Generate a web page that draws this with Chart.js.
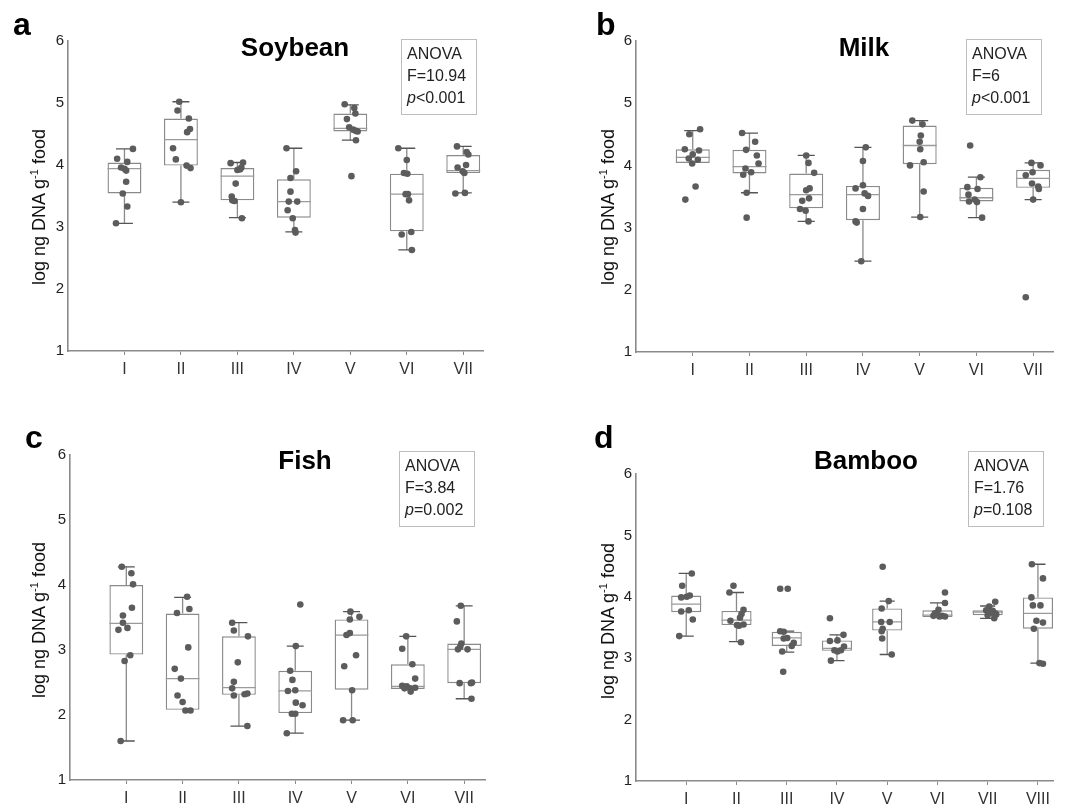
<!DOCTYPE html>
<html><head><meta charset="utf-8">
<script src="https://cdn.jsdelivr.net/npm/chart.js@4.4.1/dist/chart.umd.min.js"></script>
<style>
body{margin:0;background:#fff;}
#wrap{position:relative;width:1072px;height:807px;overflow:hidden;font-family:"Liberation Sans",Arial,sans-serif;color:#111;background:#fff;}
canvas{position:absolute;}
.lbl{position:absolute;font-weight:bold;font-size:32px;line-height:32px;color:#000;}
.ttl{position:absolute;font-weight:bold;font-size:26px;line-height:26px;transform:translateX(-50%);white-space:nowrap;color:#000;}
.anova{position:absolute;border:1.5px solid #bdbdbd;box-sizing:border-box;width:76px;height:76px;padding:3px 0 0 5px;font-size:16px;line-height:22px;color:#222;white-space:nowrap;}
.ytitle{position:absolute;font-size:18px;line-height:18px;white-space:nowrap;transform:translate(-50%,-50%) rotate(-90deg);color:#111;}
.ytitle sup{font-size:11px;line-height:0;}
</style></head>
<body>
<div id="wrap">
<canvas id="ca" width="536" height="400" style="left:0;top:0"></canvas>
<canvas id="cb" width="536" height="400" style="left:536px;top:0"></canvas>
<canvas id="cc" width="536" height="407" style="left:0;top:400px"></canvas>
<canvas id="cd" width="536" height="407" style="left:536px;top:400px"></canvas>

<div class="lbl" style="left:13px;top:8px">a</div>
<div class="lbl" style="left:596px;top:8px">b</div>
<div class="lbl" style="left:25px;top:421px">c</div>
<div class="lbl" style="left:594px;top:421px">d</div>

<div class="ttl" style="left:295px;top:34px">Soybean</div>
<div class="ttl" style="left:864px;top:34px">Milk</div>
<div class="ttl" style="left:305px;top:447px">Fish</div>
<div class="ttl" style="left:866px;top:447px">Bamboo</div>

<div class="anova" style="left:401px;top:39px">ANOVA<br>F=10.94<br><i>p</i>&lt;0.001</div>
<div class="anova" style="left:966px;top:39px">ANOVA<br>F=6<br><i>p</i>&lt;0.001</div>
<div class="anova" style="left:399px;top:451px">ANOVA<br>F=3.84<br><i>p</i>=0.002</div>
<div class="anova" style="left:968px;top:451px">ANOVA<br>F=1.76<br><i>p</i>=0.108</div>

<div class="ytitle" style="left:39px;top:207px">log ng DNA g<sup>-1</sup> food</div>
<div class="ytitle" style="left:608px;top:207px">log ng DNA g<sup>-1</sup> food</div>
<div class="ytitle" style="left:39px;top:620px">log ng DNA g<sup>-1</sup> food</div>
<div class="ytitle" style="left:608px;top:621px">log ng DNA g<sup>-1</sup> food</div>
</div>
<script>
// ---------- tick labels ----------
const yTicks = [1, 2, 3, 4, 5, 6];
const cats7 = ['I', 'II', 'III', 'IV', 'V', 'VI', 'VII'];
const cats8 = ['I', 'II', 'III', 'IV', 'V', 'VI', 'VII', 'VIII'];

// ---------- a: Soybean ----------
const soyLo  = [3.06, 3.40, 3.15, 2.92, 4.40, 2.63, 3.55];
const soyQ1  = [3.54, 3.99, 3.43, 3.15, 4.54, 2.93, 3.87];
const soyMed = [3.94, 4.41, 3.82, 3.41, 4.59, 3.53, 3.91];
const soyQ3  = [4.04, 4.75, 3.95, 3.77, 4.83, 3.86, 4.16];
const soyHi  = [4.26, 5.02, 4.04, 4.27, 4.97, 4.27, 4.30];
const soyPts = [
  [4.26, 4.10, 4.05, 3.96, 3.94, 3.91, 3.73, 3.54, 3.33, 3.06],
  [5.02, 4.88, 4.75, 4.58, 4.53, 4.27, 4.09, 3.99, 3.95, 3.40],
  [4.03, 4.04, 3.96, 3.92, 3.93, 3.70, 3.49, 3.43, 3.42, 3.14],
  [4.27, 3.90, 3.79, 3.57, 3.41, 3.41, 3.27, 3.14, 2.95, 2.91],
  [4.98, 4.92, 4.83, 4.74, 4.61, 4.57, 4.54, 4.55, 4.40, 3.82],
  [4.27, 4.08, 3.87, 3.86, 3.53, 3.53, 3.43, 2.88, 2.92, 2.63],
  [4.30, 4.21, 4.17, 4.00, 3.96, 3.90, 3.87, 3.54, 3.55]
];
const soyJit = [
  [0.15, -0.13, 0.05, -0.06, 0, 0.03, 0.03, -0.03, 0.05, -0.15],
  [-0.03, -0.06, 0.14, 0.16, 0.11, -0.14, -0.09, 0.10, 0.17, 0],
  [-0.12, 0.10, 0.07, 0, 0.05, -0.03, -0.10, -0.09, -0.05, 0.08],
  [-0.13, 0.04, -0.06, -0.06, -0.09, 0.06, -0.11, -0.02, 0.02, 0.03],
  [-0.10, 0.07, 0.09, -0.06, -0.02, 0.05, 0.13, 0.10, 0.10, 0.02],
  [-0.15, 0, -0.05, 0.01, -0.02, 0.02, 0.04, -0.09, 0.08, 0.09],
  [-0.11, 0.06, 0.09, 0.05, -0.10, -0.01, 0.02, -0.14, 0.03]
];

// ---------- b: Milk ----------
const milkLo  = [4.04, 3.56, 3.10, 2.46, 3.17, 3.16, 3.45];
const milkQ1  = [4.04, 3.87, 3.31, 3.12, 4.02, 3.42, 3.64];
const milkMed = [4.13, 3.98, 3.53, 3.53, 4.32, 3.48, 3.79];
const milkQ3  = [4.26, 4.25, 3.87, 3.67, 4.64, 3.64, 3.93];
const milkHi  = [4.56, 4.52, 4.16, 4.29, 4.72, 3.81, 4.04];
const milkPts = [
  [4.58, 4.50, 4.26, 4.24, 4.18, 4.11, 4.09, 4.03, 3.66, 3.45],
  [4.52, 4.38, 4.25, 4.16, 4.03, 3.95, 3.89, 3.85, 3.56, 3.16],
  [4.16, 4.04, 3.88, 3.63, 3.60, 3.47, 3.43, 3.30, 3.27, 3.10],
  [4.29, 4.07, 3.68, 3.63, 3.55, 3.51, 3.30, 3.10, 3.08, 2.46],
  [4.72, 4.66, 4.48, 4.38, 4.26, 4.05, 4.00, 3.58, 3.17],
  [4.32, 3.81, 3.65, 3.62, 3.53, 3.45, 3.42, 3.41, 3.16],
  [4.04, 4.00, 3.89, 3.84, 3.71, 3.66, 3.62, 3.45, 1.88]
];
const milkJit = [
  [0.13, -0.06, -0.14, 0.11, 0, -0.07, 0.09, -0.01, 0.05, -0.13],
  [-0.13, 0.10, -0.06, 0.13, 0.16, -0.07, 0.03, -0.11, -0.05, -0.05],
  [0, 0.04, 0.14, 0.06, 0, 0.05, -0.07, -0.11, -0.01, 0.04],
  [0.05, 0, 0, -0.13, 0.03, 0.09, 0, -0.13, -0.11, -0.03],
  [-0.13, 0.05, 0.02, 0, 0.01, 0.07, -0.17, 0.07, 0.01],
  [-0.11, 0.07, -0.16, 0.02, -0.14, -0.03, -0.13, 0.01, 0.10],
  [-0.03, 0.13, -0.01, -0.13, -0.02, 0.09, 0.10, 0, -0.13]
];

// ---------- c: Fish ----------
const fishLo  = [1.60, 2.08, 1.83, 1.72, 1.92, 2.40, 2.25];
const fishQ1  = [2.93, 2.08, 2.31, 2.03, 2.39, 2.40, 2.49];
const fishMed = [3.41, 2.56, 2.42, 2.37, 3.23, 2.44, 3.01];
const fishQ3  = [4.00, 3.56, 3.21, 2.68, 3.47, 2.78, 3.10];
const fishHi  = [4.28, 3.81, 3.42, 3.06, 3.59, 3.21, 3.68];
const fishPts = [
  [4.28, 4.18, 4.01, 3.65, 3.53, 3.42, 3.34, 3.31, 2.92, 2.83, 1.60],
  [3.82, 3.57, 3.63, 3.04, 2.71, 2.56, 2.30, 2.20, 2.07, 2.07],
  [3.42, 3.30, 3.21, 2.81, 2.51, 2.41, 2.30, 2.32, 2.33, 1.83],
  [3.70, 3.06, 2.68, 2.54, 2.37, 2.38, 2.19, 2.15, 2.02, 2.02, 1.72],
  [3.59, 3.51, 3.47, 3.26, 3.23, 2.92, 2.75, 2.38, 1.92, 1.92],
  [3.21, 3.02, 2.78, 2.56, 2.45, 2.44, 2.41, 2.41, 2.42, 2.36],
  [3.68, 3.44, 3.10, 3.05, 3.01, 3.01, 2.49, 2.49, 2.50, 2.25]
];
const fishJit = [
  [-0.08, 0.09, 0.12, 0.10, -0.06, -0.06, 0.02, -0.14, 0.07, -0.03, -0.10],
  [0.08, -0.10, 0.12, 0.10, -0.14, -0.03, -0.09, 0, 0.05, 0.14],
  [-0.12, -0.09, 0.16, -0.02, -0.09, -0.12, -0.09, 0.10, 0.15, 0.15],
  [0.09, 0.01, -0.09, -0.05, -0.13, 0, 0.01, 0.13, -0.06, 0, -0.15],
  [-0.02, 0.14, -0.03, -0.03, -0.09, 0.08, -0.13, 0.01, -0.15, 0.02],
  [-0.03, -0.10, 0.08, 0.13, -0.10, -0.02, -0.06, 0.04, 0.13, 0.05],
  [-0.06, -0.13, -0.05, -0.07, -0.11, 0.06, -0.08, 0.12, 0.14, 0.13]
];

// ---------- d: Bamboo ----------
const bamLo  = [3.36, 3.27, 3.10, 2.96, 3.06, 3.67, 3.65, 2.92];
const bamQ1  = [3.75, 3.54, 3.20, 3.12, 3.45, 3.67, 3.70, 3.48];
const bamMed = [3.88, 3.62, 3.33, 3.16, 3.59, 3.70, 3.75, 3.73];
const bamQ3  = [4.02, 3.77, 3.43, 3.29, 3.81, 3.78, 3.78, 3.99];
const bamHi  = [4.38, 4.07, 3.44, 3.38, 3.93, 3.90, 3.85, 4.53];
const bamPts = [
  [4.38, 4.18, 4.02, 4.00, 3.99, 3.76, 3.78, 3.63, 3.36],
  [4.18, 4.07, 3.79, 3.72, 3.66, 3.61, 3.54, 3.53, 3.55, 3.26],
  [4.13, 4.13, 3.44, 3.43, 3.33, 3.32, 3.25, 3.20, 3.11, 2.78],
  [3.65, 3.38, 3.28, 3.29, 3.19, 3.13, 3.11, 3.13, 2.96],
  [4.49, 3.93, 3.81, 3.59, 3.59, 3.48, 3.44, 3.32, 3.06],
  [4.07, 3.90, 3.79, 3.73, 3.71, 3.69, 3.69, 3.68, 3.68],
  [3.92, 3.84, 3.78, 3.77, 3.74, 3.73, 3.70, 3.65, 3.71],
  [4.53, 4.30, 3.99, 3.86, 3.86, 3.61, 3.58, 3.48, 2.92, 2.91]
];
const bamJit = [
  [0.11, -0.08, 0.07, 0.01, -0.10, -0.10, 0.05, 0.13, -0.14],
  [-0.06, -0.14, 0.14, 0.10, 0.07, -0.12, 0.01, 0.05, 0.14, 0.09],
  [-0.13, 0.02, -0.13, -0.06, 0.01, -0.06, 0.14, 0.10, -0.09, -0.07],
  [-0.14, 0.13, -0.14, 0.01, 0.14, -0.05, 0.01, 0.08, -0.12],
  [-0.09, 0.03, -0.11, -0.12, 0.05, -0.09, -0.11, -0.10, 0.09],
  [0.15, 0.15, 0.02, -0.05, 0, 0.09, -0.08, 0.04, 0.15],
  [0.15, 0.03, -0.03, 0.10, 0.07, 0.15, 0, 0.13, 0.17],
  [-0.12, 0.10, -0.13, -0.10, 0.05, -0.03, 0.10, -0.08, 0.03, 0.10]
];

// ---------- builder ----------
const BOX_COL = '#8a8a8a', CAP_COL = '#555555', MED_COL = '#9a9a9a', PT_COL = '#5c5c5c', AXIS_COL = '#8a8a8a';
const CAP_HALF = 0.15, MED_HALF = 0.3;

function buildPanel(id, cats, lo, q1, med, q3, hi, pts, jit, xMax, pad, xh) {
  const boxData = cats.map((c, i) => ({ x: i + 1, y: [q1[i], q3[i]] }));
  const whisk = [], caps = [], meds = [], dots = [];
  cats.forEach((c, i) => {
    const x = i + 1;
    whisk.push({ x, y: q3[i] }, { x, y: hi[i] }, { x, y: null });
    caps.push({ x: x - CAP_HALF, y: hi[i] }, { x: x + CAP_HALF, y: hi[i] }, { x, y: null });
    if (lo[i] < q1[i]) {
      whisk.push({ x, y: lo[i] }, { x, y: q1[i] }, { x, y: null });
      caps.push({ x: x - CAP_HALF, y: lo[i] }, { x: x + CAP_HALF, y: lo[i] }, { x, y: null });
    }
    meds.push({ x: x - MED_HALF, y: med[i] }, { x: x + MED_HALF, y: med[i] }, { x, y: null });
    pts[i].forEach((v, k) => dots.push({ x: x + jit[i][k], y: v }));
  });

  new Chart(document.getElementById(id), {
    type: 'bar',
    data: {
      datasets: [
        { type: 'line', data: dots, showLine: false, pointRadius: 3.3, pointHoverRadius: 3.3,
          pointBackgroundColor: PT_COL, pointBorderWidth: 0, order: 0, clip: false },
        { type: 'line', data: meds, borderColor: MED_COL, borderWidth: 1.3, pointRadius: 0, spanGaps: false, order: 1, clip: false },
        { type: 'line', data: caps, borderColor: CAP_COL, borderWidth: 1.3, pointRadius: 0, spanGaps: false, order: 2, clip: false },
        { type: 'line', data: whisk, borderColor: BOX_COL, borderWidth: 1.3, pointRadius: 0, spanGaps: false, order: 3, clip: false },
        { type: 'bar', data: boxData, backgroundColor: '#ffffff', borderColor: BOX_COL, borderWidth: 1.4,
          borderSkipped: false, barPercentage: 0.6, categoryPercentage: 1, order: 4 }
      ]
    },
    options: {
      responsive: false, animation: false,
      events: [],
      layout: { padding: pad },
      plugins: { legend: { display: false }, tooltip: { enabled: false }, title: { display: false } },
      scales: {
        x: {
          type: 'linear', min: 0, max: xMax, offset: false,
          grid: { display: true, drawOnChartArea: false, drawTicks: true, tickLength: 4, color: AXIS_COL, offset: false },
          border: { display: true, color: AXIS_COL, width: 1.6 },
          afterBuildTicks: (s) => { s.ticks = cats.map((c, i) => ({ value: i + 1 })); },
          afterFit: (s) => { s.height = xh; },
          ticks: { autoSkip: false, maxRotation: 0, padding: 5, color: '#333',
                   font: { family: 'Liberation Sans', size: 16 },
                   callback: (v) => cats[Math.round(v) - 1] }
        },
        y: {
          type: 'linear', min: 1, max: 6,
          grid: { display: false, drawTicks: false },
          border: { display: true, color: AXIS_COL, width: 1.6 },
          afterFit: (s) => { s.width = 40; },
          ticks: { stepSize: 1, padding: 4, color: '#222', font: { family: 'Liberation Sans', size: 15 },
                   callback: (v) => yTicks.includes(v) ? String(v) : '' }
        }
      }
    }
  });
}

buildPanel('ca', cats7, soyLo, soyQ1, soyMed, soyQ3, soyHi, soyPts, soyJit, 7.35, { left: 28, top: 41, right: 53, bottom: 9 }, 40);
buildPanel('cb', cats7, milkLo, milkQ1, milkMed, milkQ3, milkHi, milkPts, milkJit, 7.35, { left: 60, top: 41, right: 19, bottom: 8 }, 40);
buildPanel('cc', cats7, fishLo, fishQ1, fishMed, fishQ3, fishHi, fishPts, fishJit, 7.37, { left: 30, top: 55, right: 51, bottom: 0 }, 27);
buildPanel('cd', cats8, bamLo, bamQ1, bamMed, bamQ3, bamHi, bamPts, bamJit, 8.3, { left: 60, top: 74, right: 19, bottom: 0 }, 26);
</script>
</body></html>
